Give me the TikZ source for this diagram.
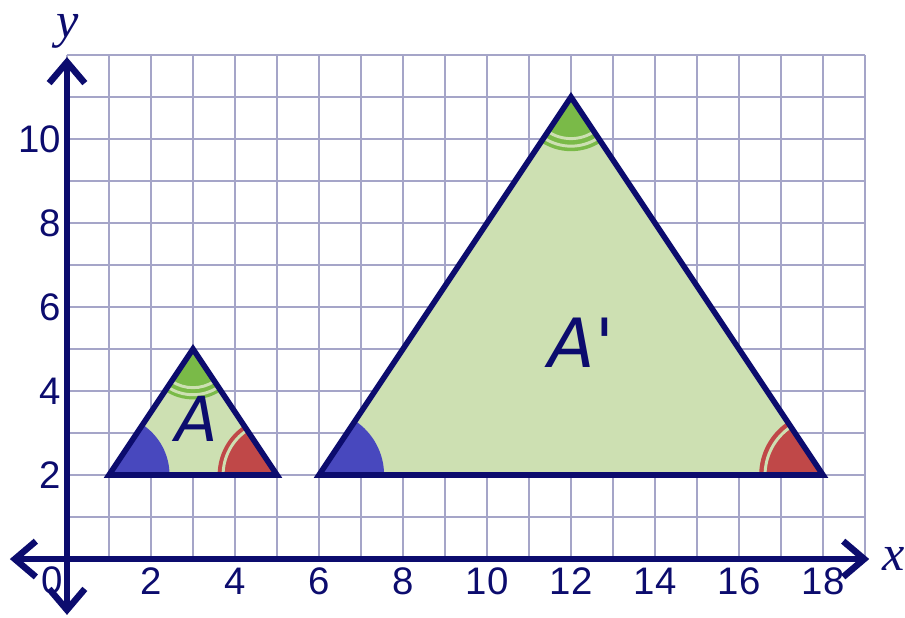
\documentclass[tikz,border=0pt]{standalone}
\usepackage{fontspec}
\setsansfont{Liberation Sans}
\newfontfamily\letterfont{DejaVu Sans}
\newfontfamily\axisfont{Liberation Serif}
\usetikzlibrary{arrows.meta}

\definecolor{navy}{RGB}{12,12,110}
\definecolor{gridblue}{RGB}{165,165,200}
\definecolor{shapegreen}{RGB}{205,224,178}
\definecolor{angleblue}{RGB}{72,72,190}
\definecolor{anglered}{RGB}{192,72,72}
\definecolor{anglegreen}{RGB}{122,186,72}

\begin{document}
\begin{tikzpicture}
  % Parameters
  \def\xmax{19}
  \def\ymax{12}
  \def\baseY{2}
  \def\blueR{1.55}
  \def\redR{1.52}
  \def\redStripe{1.38}
  \def\greenR{1.29}
  \def\greenStripeA{0.99}
  \def\greenStripeB{1.17}

  \tikzset{
    gridline/.style={gridblue, line width=1.3pt},
    axisline/.style={navy, line width=4.4pt,
      {Straight Barb[length=5mm,width=8.5mm]}-{Straight Barb[length=5mm,width=8.5mm]}},
    triside/.style={navy, line width=3.8pt},
    stripe/.style={shapegreen, line width=2pt},
    ticklabel/.style={navy, font=\sffamily\fontsize{26}{26}\selectfont},
    axislabel/.style={navy, font=\axisfont\itshape\fontsize{34}{34}\selectfont},
    trilabel/.style={navy, font=\letterfont\itshape\fontsize{#1}{#1}\selectfont},
  }

  \useasboundingbox (-1.595,-1.381) rectangle (19.952,13.310);

  % Grid
  \draw[gridline] (0,0) grid (\xmax,\ymax);

  % Draw the two triangles: left x / right x / apex x / apex y / mark scale
  \foreach \lx/\rx/\ax/\ay/\m in {1/5/3/5/0.93, 6/18/12/11/1} {
    \fill[shapegreen] (\lx,\baseY) -- (\rx,\baseY) -- (\ax,\ay) -- cycle;
    % blue angle
    \fill[angleblue] (\lx,\baseY) -- ++(0:\m*\blueR)
      arc[start angle=0, end angle=56.31, radius=\m*\blueR] -- cycle;
    % red angle with one stripe
    \fill[anglered] (\rx,\baseY) -- ++(180:\m*\redR)
      arc[start angle=180, end angle=123.69, radius=\m*\redR] -- cycle;
    \draw[stripe] (\rx,\baseY) ++(180:\m*\redStripe)
      arc[start angle=180, end angle=123.69, radius=\m*\redStripe];
    % green angle with two stripes
    \fill[anglegreen] (\ax,\ay) -- ++(-123.69:\m*\greenR)
      arc[start angle=-123.69, end angle=-56.31, radius=\m*\greenR] -- cycle;
    \foreach \r in {\greenStripeA,\greenStripeB} {
      \draw[stripe] (\ax,\ay) ++(-123.69:\m*\r)
        arc[start angle=-123.69, end angle=-56.31, radius=\m*\r];
    }
    \draw[triside] (\lx,\baseY) -- (\rx,\baseY) -- (\ax,\ay) -- cycle;
  }

  % Axes
  \draw[axisline] (-1.36,0) -- (19.1,0);
  \draw[axisline] (0,-1.33) -- (0,11.95);

  % Tick labels
  \foreach \x in {2,4,...,18} {
    \node[ticklabel] (xtick\x) at (\x,-0.53) {\x};
  }
  \foreach \y in {2,4,...,10} {
    \node[ticklabel, anchor=east, inner sep=0pt] (ytick\y) at (-0.13,\y) {\y};
  }
  \node[ticklabel] (origin) at (-0.36,-0.5) {0};

  % Axis labels
  \node[axislabel] (xlabel) at (19.69,0) {x};
  \node[axislabel] (ylabel) at (0.02,12.57) {y};

  % Triangle labels
  \node[trilabel=42] (labelA) at (3.1,3.33) {A};
  \node[trilabel=46] (labelAprime) at (12.25,5.15) {A\textquotesingle};
\end{tikzpicture}
\end{document}
